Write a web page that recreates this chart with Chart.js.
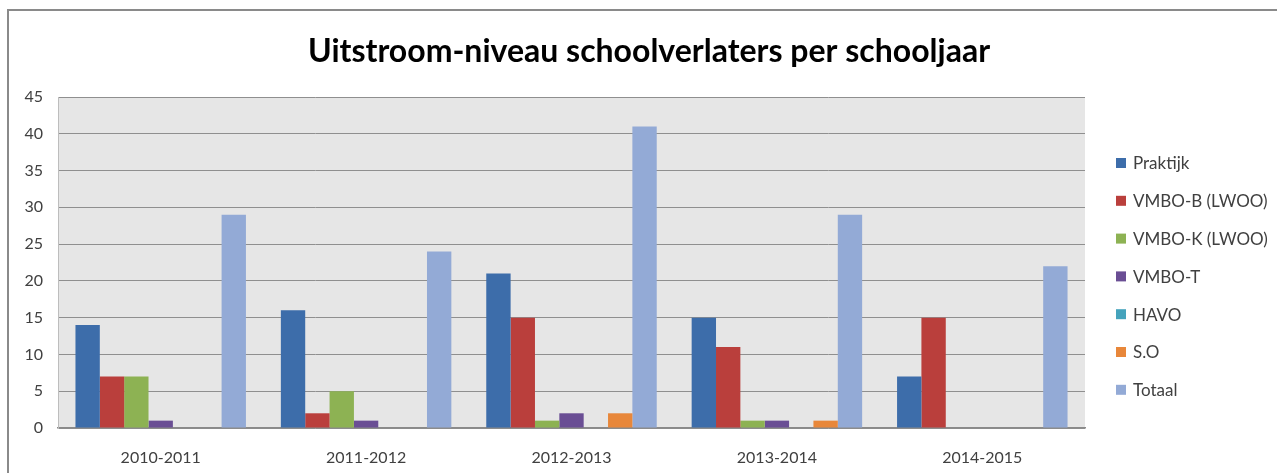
<!DOCTYPE html>
<html>
<head>
<meta charset="utf-8">
<script src="https://cdn.jsdelivr.net/npm/chart.js@4"></script>
<style>
  html, body { margin: 0; padding: 0; background: #fff; }
  #wrap { width: 1277px; height: 473px; position: relative; }
</style>
</head>
<body>
<div id="wrap"><canvas id="chart" width="1277" height="473"></canvas></div>
<script>
// data
var categories = ['2010-2011', '2011-2012', '2012-2013', '2013-2014', '2014-2015'];
var praktijk  = [14, 16, 21, 15, 7];
var vmboB     = [7, 2, 15, 11, 15];
var vmboK     = [7, 5, 1, 1, 0];
var vmboT     = [1, 1, 2, 1, 0];
var havo      = [0, 0, 0, 0, 0];
var so        = [0, 0, 2, 1, 0];
var totaal    = [29, 24, 41, 29, 22];
var seriesNames = ['Praktijk', 'VMBO-B (LWOO)', 'VMBO-K (LWOO)', 'VMBO-T', 'HAVO', 'S.O', 'Totaal'];
var yTicks = [0, 5, 10, 15, 20, 25, 30, 35, 40, 45];
var chartTitle = 'Uitstroom-niveau schoolverlaters per schooljaar';

var colors = ['#3D6DAA', '#BA3F3C', '#8DB253', '#6A4E94', '#45A3BC', '#E8873A', '#93AAD6'];
var allSeries = [praktijk, vmboB, vmboK, vmboT, havo, so, totaal];

var datasets = allSeries.map(function (vals, i) {
  return {
    label: seriesNames[i],
    data: vals,
    backgroundColor: colors[i],
    borderWidth: 0,
    categoryPercentage: 0.83,
    barPercentage: 1.0
  };
});

var FONT = 'Lato, "Open Sans", sans-serif';

// grey plot background + outer frame
var backdrop = {
  id: 'backdrop',
  beforeDraw: function (chart) {
    var c = chart.ctx, a = chart.chartArea;
    c.save();
    c.fillStyle = '#fff';
    c.fillRect(0, 0, chart.width, chart.height);
    c.fillStyle = '#E6E6E6';
    c.fillRect(a.left, a.top, a.right - a.left, a.bottom - a.top);
    c.strokeStyle = '#8a8a8a';
    c.lineWidth = 2;
    c.beginPath();
    c.moveTo(8, chart.height);
    c.lineTo(8, 10);
    c.lineTo(chart.width, 10);
    c.stroke();
    c.restore();
  }
};

// title centred on the whole frame, legend on the right
var overlay = {
  id: 'overlay',
  afterDraw: function (chart) {
    var c = chart.ctx;
    c.save();
    c.fillStyle = '#000';
    c.font = 'bold 32px ' + FONT;
    c.textAlign = 'center';
    c.textBaseline = 'middle';
    c.fillText(chartTitle, 649, 52);

    var x = 1116, y0 = 163, step = 37.8;
    c.textAlign = 'left';
    c.font = '17px ' + FONT;
    chart.data.datasets.forEach(function (ds, i) {
      var y = y0 + i * step;
      c.fillStyle = ds.backgroundColor;
      c.fillRect(x, y - 5, 10, 10);
      c.fillStyle = '#404040';
      c.fillText(ds.label, x + 17, y + 1);
    });
    c.restore();
  }
};

new Chart(document.getElementById('chart'), {
  type: 'bar',
  data: { labels: categories, datasets: datasets },
  plugins: [backdrop, overlay],
  options: {
    responsive: false,
    animation: false,
    layout: { padding: { left: 8, right: 192, top: 97, bottom: 0 } },
    plugins: {
      legend: { display: false },
      tooltip: { enabled: false },
      title: { display: false }
    },
    scales: {
      x: {
        grid: { display: false },
        border: { color: '#8a8a8a', width: 1.5 },
        ticks: { color: '#404040', font: { family: FONT, size: 16 }, padding: 12 },
        afterFit: function (s) { s.height = 45; }
      },
      y: {
        min: 0,
        max: 45,
        afterBuildTicks: function (s) { s.ticks = yTicks.map(function (v) { return { value: v }; }); },
        grid: { color: '#8f8f8f', lineWidth: 1, drawTicks: false },
        border: { color: '#bdbdbd', width: 1 },
        ticks: { color: '#404040', font: { family: FONT, size: 16 }, padding: 15 },
        afterFit: function (s) { s.width = 50; }
      }
    }
  }
});
</script>
</body>
</html>
